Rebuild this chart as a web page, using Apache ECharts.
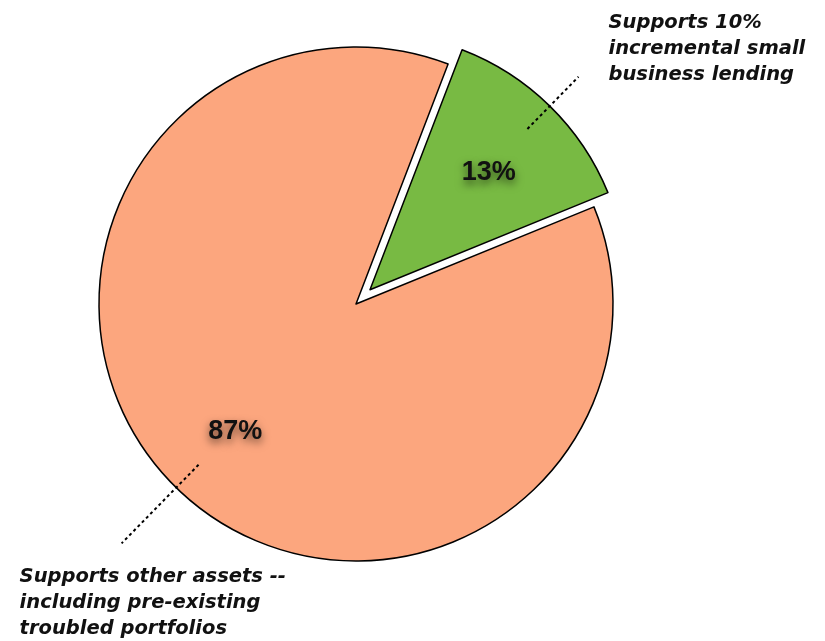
<!DOCTYPE html>
<html>
<head>
<meta charset="utf-8">
<script src="https://cdn.jsdelivr.net/npm/echarts@6/dist/echarts.min.js"></script>
<style>
html,body{margin:0;padding:0;background:#fff;}
#chart{width:825px;height:641px;}
</style>
</head>
<body>
<div id="chart"></div>
<script>
// Data
const categories = ['Supports 10%\nincremental small\nbusiness lending', 'Supports other assets --\nincluding pre-existing\ntroubled portfolios'];
const values = [13, 87];
const sliceColors = ['#78BA43', '#FCA67E'];
const explodedIndex = 0;

const CENTER = [356, 304];
const R = 257;
const START = 69;
const OFFSET = 20;

// centre of the exploded slice, derived from the data
const total = values.reduce((a, b) => a + b, 0);
let before = 0;
for (let i = 0; i < explodedIndex; i++) before += values[i];
const midRad = (START - (before + values[explodedIndex] / 2) / total * 360) * Math.PI / 180;
const EXPLODED_CENTER = [CENTER[0] + OFFSET * Math.cos(midRad), CENTER[1] - OFFSET * Math.sin(midRad)];

function mkData(extra) {
  return values.map((v, i) => Object.assign({
    name: categories[i],
    value: v
  }, extra ? extra(i) : {}));
}

const outerLabel = {
  show: true,
  position: 'outside',
  alignTo: 'none',
  formatter: p => p.name,
  fontFamily: 'DejaVu Sans, sans-serif',
  fontWeight: 'bold',
  fontStyle: 'italic',
  fontSize: 19.5,
  lineHeight: 26,
  color: '#111'
};
const outerLine = {
  show: true,
  length2: 0,
  smooth: false,
  lineStyle: {color: '#000', width: 2, type: [3, 3]}
};

function outerSeries(idx, center, radius, lineLen, place) {
  return {
    type: 'pie',
    z: 4,
    center: center,
    radius: radius,
    startAngle: START,
    clockwise: true,
    avoidLabelOverlap: false,
    silent: true,
    emphasis: {disabled: true},
    itemStyle: {color: 'rgba(0,0,0,0)', borderWidth: 0},
    label: outerLabel,
    labelLine: Object.assign({length: lineLen}, outerLine),
    labelLayout: function (params) {
      const pts = params.labelLinePoints;
      if (!pts || params.dataIndex !== idx) return {};
      const end = pts[pts.length - 1];
      return Object.assign(place(end), {labelLinePoints: pts});
    },
    data: mkData(i => i === idx ? {} : {label: {show: false}, labelLine: {show: false}})
  };
}

const chart = echarts.init(document.getElementById('chart'), null, {renderer: 'canvas'});
chart.setOption({
  animation: false,
  backgroundColor: '#fff',
  series: [
    {
      type: 'pie',
      z: 2,
      center: CENTER,
      radius: R,
      startAngle: START,
      clockwise: true,
      selectedMode: 'single',
      selectedOffset: OFFSET,
      avoidLabelOverlap: false,
      silent: true,
      label: {show: false},
      labelLine: {show: false},
      emphasis: {disabled: true},
      itemStyle: {borderColor: '#000', borderWidth: 1.5},
      data: mkData(i => ({selected: i === explodedIndex, itemStyle: {color: sliceColors[i]}}))
    },
    {
      type: 'pie',
      z: 5,
      center: CENTER,
      radius: [88, R],
      startAngle: START,
      clockwise: true,
      selectedMode: 'single',
      selectedOffset: OFFSET,
      avoidLabelOverlap: false,
      silent: true,
      emphasis: {disabled: true},
      itemStyle: {color: 'rgba(0,0,0,0)', borderWidth: 0},
      label: {
        show: true,
        position: 'inside',
        formatter: p => p.value + '%',
        fontFamily: 'Liberation Sans, Arial, sans-serif',
        fontWeight: 'bold',
        fontSize: 27,
        color: '#111',
        textShadowColor: 'rgba(0,0,0,0.6)',
        textShadowBlur: 8,
        textShadowOffsetY: 4,
        textBorderWidth: 0
      },
      labelLine: {show: false},
      labelLayout: function (params) {
        if (params.dataIndex === 0) return {dx: -4, dy: 8};
        return {dx: 2, dy: 2};
      },
      data: mkData(i => ({selected: i === explodedIndex}))
    },
    outerSeries(0, EXPLODED_CENTER, 225, 73, end => ({x: end[0] + 30, y: end[1] - 67, align: 'left', verticalAlign: 'top'})),
    outerSeries(1, CENTER, 225, 110, end => ({x: end[0] - 102, y: end[1] + 21, align: 'left', verticalAlign: 'top'}))
  ]
});
</script>
</body>
</html>
